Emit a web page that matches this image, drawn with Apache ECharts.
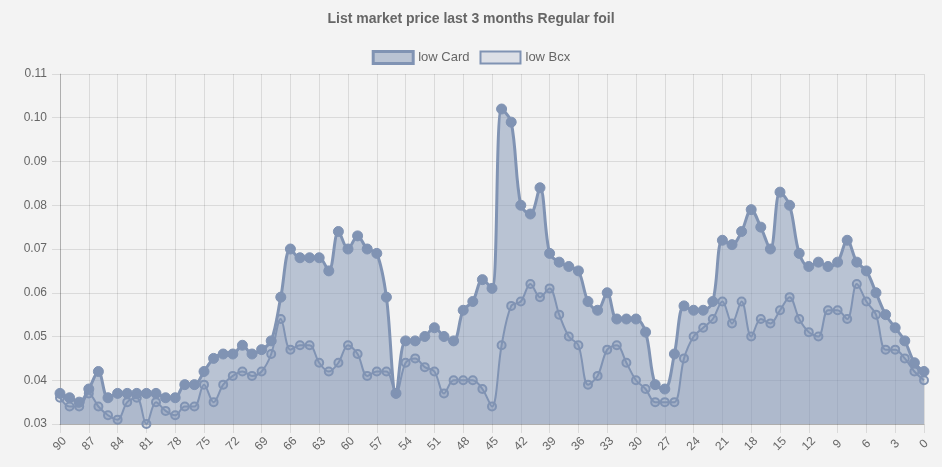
<!DOCTYPE html>
<html>
<head>
<meta charset="utf-8">
<script src="https://cdn.jsdelivr.net/npm/echarts@6/dist/echarts.min.js"></script>
<style>
html,body{margin:0;padding:0;background:#f3f3f3;}
#chart{width:942px;height:467px;}
</style>
</head>
<body>
<div id="chart"></div>
<script>
var categories = ['90','89','88','87','86','85','84','83','82','81','80','79','78','77','76','75','74','73','72','71','70','69','68','67','66','65','64','63','62','61','60','59','58','57','56','55','54','53','52','51','50','49','48','47','46','45','44','43','42','41','40','39','38','37','36','35','34','33','32','31','30','29','28','27','26','25','24','23','22','21','20','19','18','17','16','15','14','13','12','11','10','9','8','7','6','5','4','3','2','1','0'];

var lowCard = [0.037,0.036,0.035,0.038,0.042,0.036,0.037,0.037,0.037,0.037,0.037,0.036,0.036,0.039,0.039,0.042,0.045,0.046,0.046,0.048,0.046,0.047,0.049,0.059,0.070,0.068,0.068,0.068,0.065,0.074,0.070,0.073,0.070,0.069,0.059,0.037,0.049,0.049,0.050,0.052,0.050,0.049,0.056,0.058,0.063,0.061,0.102,0.099,0.080,0.078,0.084,0.069,0.067,0.066,0.065,0.058,0.056,0.060,0.054,0.054,0.054,0.051,0.039,0.038,0.046,0.057,0.056,0.056,0.058,0.072,0.071,0.074,0.079,0.075,0.070,0.083,0.080,0.069,0.066,0.067,0.066,0.067,0.072,0.067,0.065,0.060,0.055,0.052,0.049,0.044,0.042];

var lowBcx = [0.036,0.034,0.034,0.037,0.034,0.032,0.031,0.035,0.036,0.030,0.035,0.033,0.032,0.034,0.034,0.039,0.035,0.039,0.041,0.042,0.041,0.042,0.046,0.054,0.047,0.048,0.048,0.044,0.042,0.044,0.048,0.046,0.041,0.042,0.042,0.037,0.044,0.045,0.043,0.042,0.037,0.040,0.040,0.040,0.038,0.034,0.048,0.057,0.058,0.062,0.059,0.061,0.055,0.050,0.048,0.039,0.041,0.047,0.048,0.044,0.040,0.038,0.035,0.035,0.035,0.045,0.050,0.052,0.054,0.058,0.053,0.058,0.050,0.054,0.053,0.056,0.059,0.054,0.051,0.050,0.056,0.056,0.054,0.062,0.058,0.055,0.047,0.047,0.045,0.042,0.040];

var titleText = 'List market price last 3 months Regular foil';
var seriesNames = ['low Card', 'low Bcx'];

var lineColor = '#8093b3';
var gridColor = 'rgba(0,0,0,0.1)';
var font = "'Liberation Sans', Arial, sans-serif";

var chart = echarts.init(document.getElementById('chart'));
chart.setOption({
  backgroundColor: '#f3f3f3',
  animation: false,
  title: {
    text: titleText,
    left: 'center',
    top: 7,
    textStyle: {fontSize: 14, fontWeight: 'bold', color: '#666', fontFamily: font}
  },
  legend: {
    top: 45,
    left: 'center',
    itemWidth: 40,
    itemHeight: 12,
    itemGap: 10,
    icon: 'rect',
    textStyle: {fontSize: 13, color: '#666', fontFamily: font},
    data: [
      {name: seriesNames[0], itemStyle: {color: 'rgba(128,147,179,0.5)', borderColor: lineColor, borderWidth: 3}},
      {name: seriesNames[1], itemStyle: {color: 'rgba(128,147,179,0.2)', borderColor: lineColor, borderWidth: 2}}
    ]
  },
  grid: {left: 60, right: 18, top: 74, bottom: 43, containLabel: false},
  xAxis: {
    type: 'category',
    data: categories,
    boundaryGap: false,
    axisLine: {show: true, lineStyle: {color: 'rgba(0,0,0,0.2)'}},
    axisTick: {show: true, interval: 2, length: 9, lineStyle: {color: gridColor}},
    axisLabel: {interval: 2, rotate: 45, align: 'center', verticalAlign: 'middle', color: '#666', fontSize: 12, fontFamily: font, margin: 20},
    splitLine: {show: true, interval: 2, lineStyle: {color: gridColor}}
  },
  yAxis: {
    type: 'value',
    min: 0.03,
    max: 0.11,
    interval: 0.01,
    axisLine: {show: true, lineStyle: {color: 'rgba(0,0,0,0.2)'}},
    axisTick: {show: true, length: 8, lineStyle: {color: gridColor}},
    axisLabel: {color: '#666', fontSize: 12, fontFamily: font, margin: 13, formatter: function(v){return v.toFixed(2);}},
    splitLine: {show: true, lineStyle: {color: gridColor}}
  },
  series: [
    {
      name: seriesNames[0],
      type: 'line',
      data: lowCard,
      smooth: 0.35,
      symbol: 'circle',
      symbolSize: 10,
      showAllSymbol: true,
      lineStyle: {color: lineColor, width: 3},
      itemStyle: {color: lineColor, borderColor: lineColor, borderWidth: 1},
      areaStyle: {color: 'rgba(128,147,179,0.5)', opacity: 1, origin: 'start'},
      z: 2
    },
    {
      name: seriesNames[1],
      type: 'line',
      data: lowBcx,
      smooth: 0.35,
      symbol: 'circle',
      symbolSize: 8,
      showAllSymbol: true,
      lineStyle: {color: lineColor, width: 2},
      itemStyle: {color: 'rgba(128,147,179,0.25)', borderColor: lineColor, borderWidth: 2},
      areaStyle: {color: 'rgba(128,147,179,0.2)', opacity: 1, origin: 'start'},
      z: 3
    }
  ]
});
</script>
</body>
</html>
